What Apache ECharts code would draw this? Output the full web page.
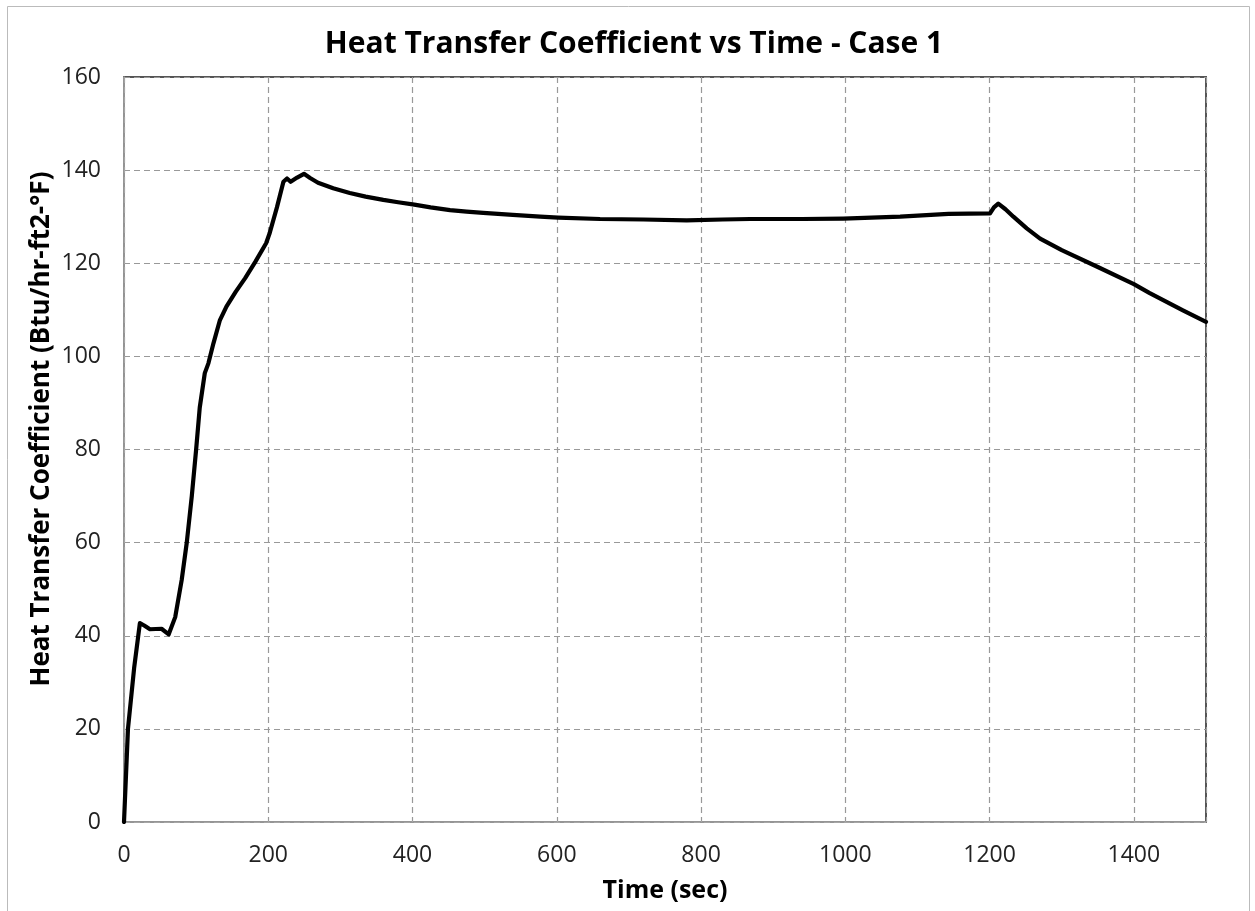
<!DOCTYPE html>
<html>
<head>
<meta charset="utf-8">
<title>Heat Transfer Coefficient vs Time - Case 1</title>
<script src="https://cdn.jsdelivr.net/npm/echarts@6/dist/echarts.min.js"></script>
<style>
  html, body { margin: 0; padding: 0; background: #fff; }
  #chart { width: 1255px; height: 911px; }
</style>
</head>
<body>
<div id="chart"></div>
<script>
// Time (sec) and heat transfer coefficient (Btu/hr-ft2-°F), Case 1
const timeSec = [0, 5.5, 14, 22, 28, 36, 52, 62, 71, 80, 87, 94, 100, 105, 112, 117, 124, 133, 142, 155, 168, 182, 197, 202, 212, 221, 226, 231, 240, 249.5, 258, 269, 290, 313, 335, 359.5, 380, 402.5, 425, 452, 475, 498, 539, 577, 602, 660, 720, 780, 830, 868, 940, 997, 1076, 1143, 1200.6, 1206, 1212, 1222, 1233, 1251.5, 1270, 1300, 1350, 1400, 1422, 1468, 1500];
const htc     = [0, 20, 33, 42.7, 42.2, 41.4, 41.5, 40.3, 44, 52, 60, 70, 80, 89, 96.4, 98.5, 102.8, 107.8, 110.7, 113.9, 116.8, 120.3, 124.3, 126.5, 132, 137.5, 138.2, 137.5, 138.4, 139.2, 138.3, 137.3, 136.1, 135.1, 134.3, 133.6, 133.1, 132.6, 132.0, 131.4, 131.1, 130.8, 130.4, 130, 129.8, 129.5, 129.4, 129.2, 129.4, 129.5, 129.5, 129.6, 130, 130.6, 130.7, 132, 132.8, 131.6, 130, 127.5, 125.3, 122.8, 119.2, 115.5, 113.6, 109.9, 107.4];

const xTicks = { min: 0, max: 1500, step: 200 };
const yTicks = { min: 0, max: 160, step: 20 };

const chartTitle = 'Heat Transfer Coefficient vs Time - Case 1';
const xTitle = 'Time (sec)';
const yTitle = 'Heat Transfer Coefficient (Btu/hr-ft2-°F)';

const points = timeSec.map((t, i) => [t, htc[i]]);

const baseFont = 'Open Sans';
const labelColor = '#222';
const dashed = { color: '#999', type: [6, 4], width: 1.2 };

const chart = echarts.init(document.getElementById('chart'), null, { renderer: 'canvas' });
chart.setOption({
  backgroundColor: '#fff',
  animation: false,
  title: {
    text: chartTitle,
    left: 629,
    top: 24,
    textAlign: 'center',
    textStyle: { fontFamily: baseFont, fontWeight: 'bold', fontSize: 30, color: '#000' }
  },
  graphic: [
    {
      type: 'rect',
      shape: { x: 7.5, y: 6.5, width: 1242, height: 920 },
      style: { fill: 'none', stroke: '#bbb', lineWidth: 1 },
      silent: true
    },
    {
      // vertical axis title, rotated
      type: 'text',
      x: 42, y: 429,
      rotation: Math.PI / 2,
      style: {
        text: yTitle,
        font: 'bold 26px "Open Sans"',
        fill: '#000',
        align: 'center',
        verticalAlign: 'middle'
      },
      silent: true
    }
  ],
  grid: {
    left: 124, right: 49, top: 77, bottom: 89,
    show: true,
    borderColor: '#555',
    borderWidth: 2,
    backgroundColor: '#fff'
  },
  xAxis: {
    type: 'value',
    min: xTicks.min, max: xTicks.max, interval: xTicks.step,
    name: xTitle,
    nameLocation: 'middle',
    nameGap: 56,
    nameTextStyle: { fontFamily: baseFont, fontWeight: 'bold', fontSize: 25, color: '#000' },
    axisLine: { show: true, lineStyle: { color: '#aaa', width: 1.5 } },
    axisTick: { show: false },
    axisLabel: {
      showMaxLabel: false,
      margin: 22,
      fontFamily: baseFont, fontSize: 23, color: labelColor,
      formatter: v => String(v)
    },
    splitLine: { show: true, lineStyle: dashed }
  },
  yAxis: {
    type: 'value',
    min: yTicks.min, max: yTicks.max, interval: yTicks.step,
    axisLine: { show: true, lineStyle: { color: '#aaa', width: 1.5 } },
    axisTick: { show: false },
    axisLabel: {
      margin: 23,
      fontFamily: baseFont, fontSize: 23, color: labelColor,
      formatter: v => String(v)
    },
    splitLine: { show: true, lineStyle: dashed }
  },
  series: [{
    type: 'line',
    data: points,
    showSymbol: false,
    smooth: false,
    lineStyle: { color: '#000', width: 4.2, join: 'round', cap: 'round' },
    z: 3
  }]
});
</script>
</body>
</html>
